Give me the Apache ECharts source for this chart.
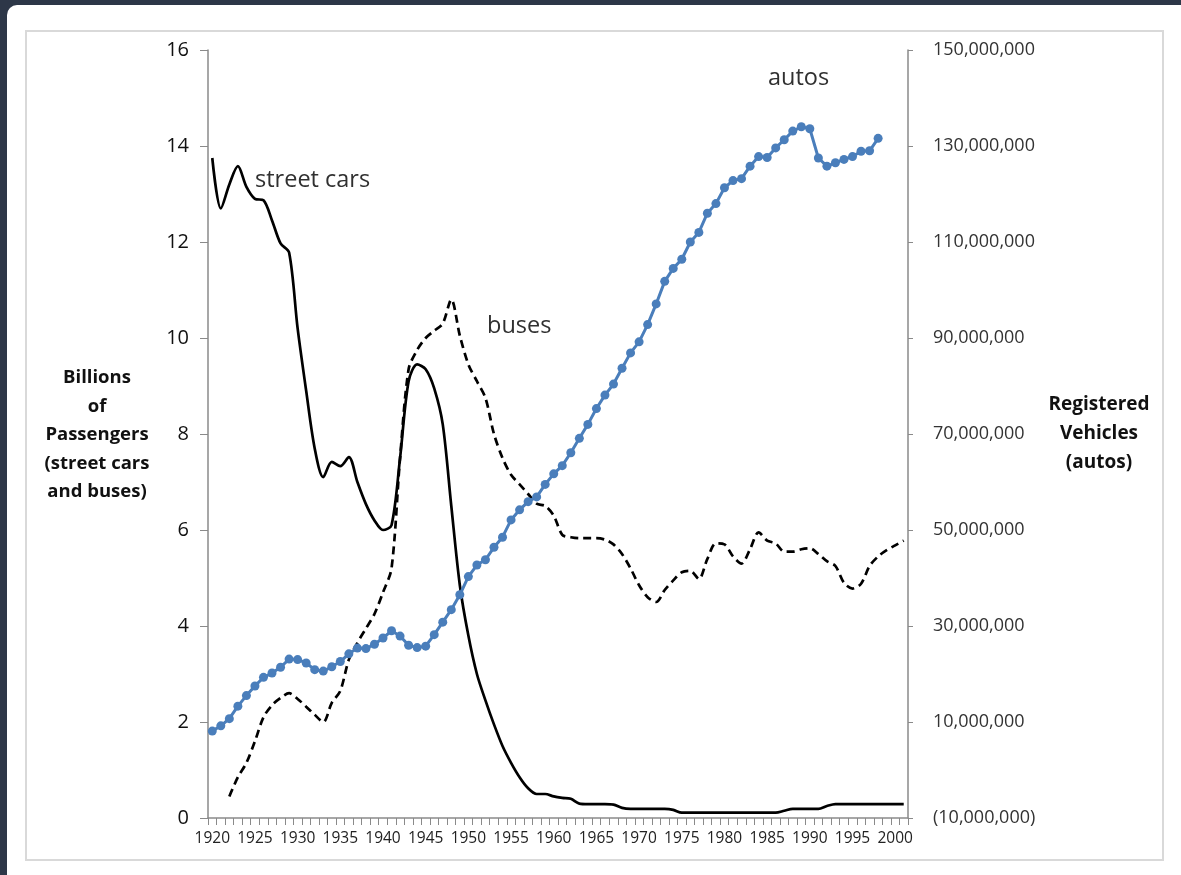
<!DOCTYPE html>
<html><head><meta charset="utf-8">
<script src="https://cdn.jsdelivr.net/npm/echarts@6/dist/echarts.min.js"></script>
<style>
html,body{margin:0;padding:0;width:1181px;height:875px;overflow:hidden;background:#2d3748;}
#card{position:absolute;left:7px;top:5px;width:1200px;height:900px;background:#fff;border-radius:10px;}
#frame{position:absolute;left:25px;top:30px;width:1139px;height:831px;border:2px solid #d9d9d9;box-sizing:border-box;}
#chart{position:absolute;left:0;top:0;width:1181px;height:875px;}
</style></head><body>
<div id="card"></div><div id="frame"></div><div id="chart"></div>
<script>
const years = ['1920','1921','1922','1923','1924','1925','1926','1927','1928','1929',
'1930','1931','1932','1933','1934','1935','1936','1937','1938','1939',
'1940','1941','1942','1943','1944','1945','1946','1947','1948','1949',
'1950','1951','1952','1953','1954','1955','1956','1957','1958','1959',
'1960','1961','1962','1963','1964','1965','1966','1967','1968','1969',
'1970','1971','1972','1973','1974','1975','1976','1977','1978','1979',
'1980','1981','1982','1983','1984','1985','1986','1987','1988','1989',
'1990','1991','1992','1993','1994','1995','1996','1997','1998','1999',
'2000','2001'];

// Billions of passengers
const streetCars = [13.75,12.7,13.2,13.58,13.15,12.9,12.87,12.45,11.97,11.78,
10.2,8.9,7.7,7.1,7.42,7.33,7.52,7.0,6.54,6.2,
6.0,6.1,7.5,9.1,9.45,9.35,8.95,8.2,6.5,4.85,
3.8,3.0,2.45,1.95,1.5,1.15,0.85,0.62,0.5,0.5,
0.45,0.42,0.4,0.3,0.29,0.29,0.29,0.28,0.21,0.19,
0.19,0.19,0.19,0.19,0.17,0.11,0.11,0.11,0.11,0.11,
0.11,0.11,0.11,0.11,0.11,0.11,0.11,0.15,0.19,0.19,
0.19,0.19,0.25,0.29,0.29,0.29,0.29,0.29,0.29,0.29,
0.29,0.29];

const buses = [null,null,0.45,0.85,1.15,1.6,2.1,2.35,2.5,2.6,
2.48,2.32,2.15,2.0,2.4,2.65,3.3,3.65,3.95,4.25,
4.7,5.2,7.5,9.35,9.75,10.0,10.15,10.3,10.8,10.05,
9.45,9.1,8.75,8.0,7.5,7.15,6.95,6.75,6.55,6.5,
6.3,5.9,5.85,5.83,5.83,5.83,5.8,5.7,5.5,5.2,
4.85,4.6,4.5,4.75,4.95,5.12,5.15,4.98,5.4,5.72,
5.7,5.45,5.3,5.6,5.95,5.78,5.72,5.55,5.55,5.6,
5.62,5.5,5.35,5.25,4.9,4.78,4.88,5.25,5.45,5.58,
5.68,5.78];

// Registered vehicles (autos)
const autos = [8100000,9200000,10700000,13300000,15500000,17500000,19300000,20200000,21400000,23100000,
23000000,22300000,20900000,20600000,21500000,22600000,24200000,25400000,25300000,26200000,
27500000,29000000,27900000,26000000,25500000,25800000,28200000,30800000,33400000,36500000,
40300000,42700000,43800000,46400000,48500000,52100000,54200000,55900000,56900000,59500000,
61700000,63400000,66100000,69100000,72000000,75300000,78100000,80400000,83700000,86900000,
89200000,92800000,97100000,101800000,104500000,106400000,110000000,112000000,116000000,118000000,
121300000,122800000,123200000,125800000,127800000,127600000,129600000,131300000,133100000,134000000,
133600000,127500000,125800000,126500000,127200000,127800000,128900000,129000000,131600000,null,
null,null];

const leftTicks = {min:0, max:16, step:2};
const rightTicks = {min:-10000000, max:150000000, step:20000000};

const chart = echarts.init(document.getElementById('chart'), null, {renderer:'canvas'});
const axisGray = '#8a8a8a';
const fnum = v => v < 0 ? '(' + Math.abs(v).toLocaleString('en-US') + ')' : v.toLocaleString('en-US');

chart.setOption({
  animation:false,
  backgroundColor:'transparent',
  grid:{left:208, right:273, top:50, bottom:57},
  xAxis:{
    type:'category', data:years, boundaryGap:true,
    axisLine:{lineStyle:{color:axisGray, width:1.5}},
    axisTick:{show:true, interval:0, length:7, lineStyle:{color:axisGray, width:1}},
    axisLabel:{interval:4, margin:13, fontFamily:'Open Sans', fontSize:15.5, color:'#222'},
    splitLine:{show:false}
  },
  yAxis:[{
    type:'value', position:'left', min:leftTicks.min, max:leftTicks.max, interval:leftTicks.step,
    axisLine:{show:true, lineStyle:{color:axisGray, width:1.5}},
    axisTick:{show:true, inside:false, length:8, lineStyle:{color:axisGray, width:1}},
    axisLabel:{margin:19, fontFamily:'Open Sans', fontSize:20, color:'#111'},
    splitLine:{show:false}
  },{
    type:'value', position:'right', min:rightTicks.min, max:rightTicks.max, interval:rightTicks.step,
    axisLine:{show:true, lineStyle:{color:axisGray, width:1.5}},
    axisTick:{show:true, inside:false, length:5, lineStyle:{color:axisGray, width:1}},
    axisLabel:{margin:25, fontFamily:'Open Sans', fontSize:18, color:'#333', formatter:fnum},
    splitLine:{show:false}
  }],
  series:[{
    name:'street cars', type:'line', yAxisIndex:0, data:streetCars,
    symbol:'none', smooth:0.3, lineStyle:{color:'#000', width:2.7}, z:3
  },{
    name:'buses', type:'line', yAxisIndex:0, data:buses,
    symbol:'none', smooth:0.3, connectNulls:false,
    lineStyle:{color:'#000', width:2.7, type:[8,5]}, z:3
  },{
    name:'autos', type:'line', yAxisIndex:1, data:autos,
    symbol:'circle', symbolSize:9, showSymbol:true, showAllSymbol:true,
    itemStyle:{color:'#4a7ebb'}, lineStyle:{color:'#4a7ebb', width:3}, z:4
  }],
  graphic:[
    {type:'text', style:{text:'street cars', x:255, y:180, align:'left', verticalAlign:'middle', font:'23.5px "Open Sans"', fill:'#303030'}},
    {type:'text', style:{text:'buses', x:487, y:326, align:'left', verticalAlign:'middle', font:'23.5px "Open Sans"', fill:'#303030'}},
    {type:'text', style:{text:'autos', x:768, y:78, align:'left', verticalAlign:'middle', font:'23.5px "Open Sans"', fill:'#303030'}},
    {type:'text', style:{text:'Billions\nof\nPassengers\n(street cars\nand buses)', x:97, y:435, align:'center', verticalAlign:'middle', lineHeight:28.5, font:'bold 18.5px "Open Sans"', fill:'#111'}},
    {type:'text', style:{text:'Registered\nVehicles\n(autos)', x:1099, y:434, align:'center', verticalAlign:'middle', lineHeight:29, font:'bold 19px "Open Sans"', fill:'#111'}}
  ]
});
</script>
</body></html>
